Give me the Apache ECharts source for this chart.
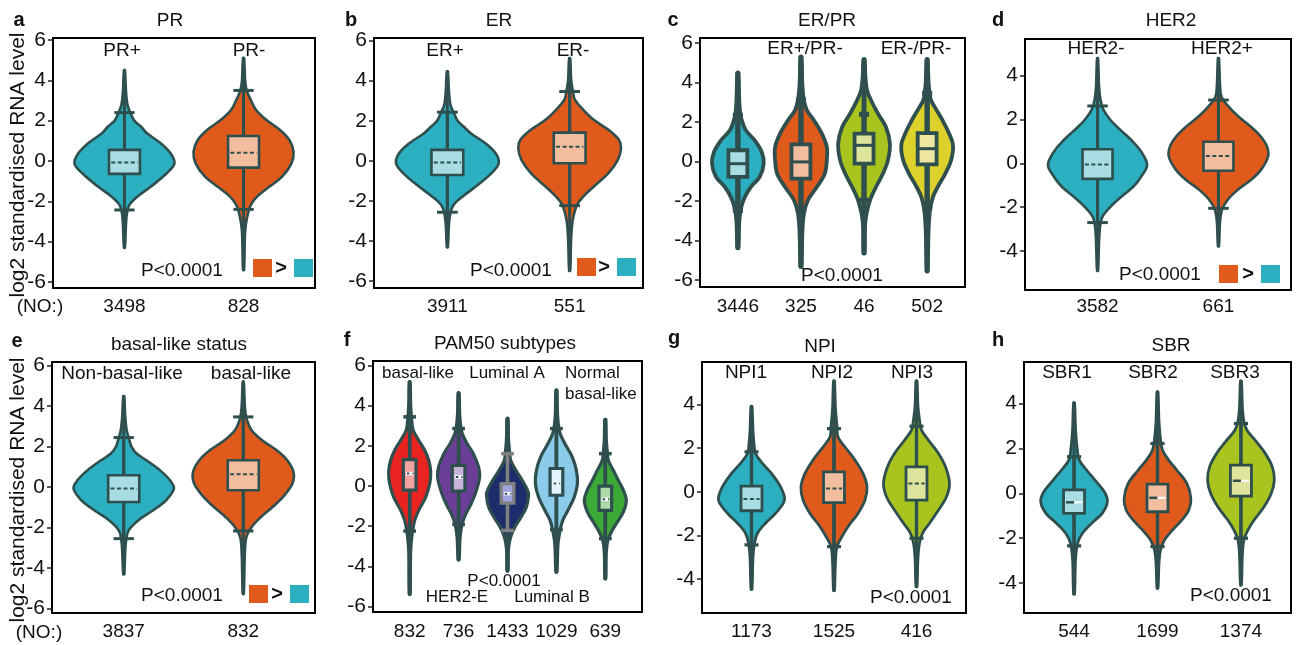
<!DOCTYPE html>
<html><head><meta charset="utf-8">
<script src="https://cdn.jsdelivr.net/npm/echarts@6/dist/echarts.min.js"></script>
<style>html,body{margin:0;padding:0;background:#fff}#c{width:1301px;height:645px}</style>
</head><body><div id="c"></div>
<script>
// ---------- DATA ----------
const panelTitles = ['PR','ER','ER/PR','HER2','basal-like status','PAM50 subtypes','NPI','SBR'];
const panelLetters = ['a','b','c','d','e','f','g','h'];
const groupCounts = [[3498,828],[3911,551],[3446,325,46,502],[3582,661],[3837,832],[832,736,1433,1029,639],[1173,1525,416],[544,1699,1374]];
const yTickValues = [[-6,-4,-2,0,2,4,6],[-6,-4,-2,0,2,4,6],[-6,-4,-2,0,2,4,6],[-4,-2,0,2,4],[-6,-4,-2,0,2,4,6],[-6,-4,-2,0,2,4,6],[-4,-2,0,2,4],[-4,-2,0,2,4]];
const tailMax = [[4.5,5.1],[4.46,5.12],[4.47,5.28,5.15,5.15],[4.78,4.78],[4.48,5.19],[5.18,4.63,3.36,4.77,3.31],[3.91,5.07,5.07],[4.03,4.52,5.0]];
const tailMin = [[-4.3,-5.4],[-4.3,-5.48],[-4.37,-5.32,-4.64,-5.55],[-4.89,-3.77],[-4.3,-5.27],[-5.39,-3.67,-4.23,-4.28,-4.61],[-4.46,-4.52,-4.34],[-4.48,-4.22,-4.08]];
const whiskerHi = [[2.4,3.5],[2.43,3.46],[2.33,3.09,2.38,3.43],[2.61,2.88],[2.44,3.46],[3.44,2.86,1.61,2.86,1.61],[1.83,2.89,3.0],[1.63,2.22,3.11]];
const whiskerLo = [[-2.43,-2.4],[-2.56,-2.23],[-2.48,-2.45,-1.97,-2.31],[-2.7,-2.05],[-2.55,-2.17],[-2.24,-1.91,-2.21,-2.17,-2.62],[-2.43,-2.51,-2.13],[-2.34,-2.37,-2.0]];
const q3 = [[0.55,1.24],[0.55,1.41],[0.56,0.86,1.4,1.43],[0.64,0.98],[0.58,1.32],[1.31,1.03,0.12,0.87,-0.01],[0.26,0.91,1.14],[0.15,0.41,1.26]];
const median = [[-0.08,0.41],[-0.08,0.71],[-0.12,-0.03,0.81,0.64],[-0.05,0.33],[-0.08,0.63],[0.62,0.45,-0.38,0.12,-0.66],[-0.33,0.15,0.38],[-0.4,-0.2,0.56]];
const q1 = [[-0.64,-0.33],[-0.7,-0.12],[-0.79,-0.88,-0.12,-0.15],[-0.71,-0.34],[-0.74,-0.16],[-0.21,-0.25,-0.85,-0.46,-1.21],[-0.87,-0.5,-0.38],[-0.89,-0.82,-0.12]];
// violin density profiles: [value, relative density]
const violinProfiles = [
 [ [[4.5,0.5],[3.5,1.5],[2.8,3],[2.4,6],[2.0,10],[1.7,17],[1.37,23],[0.88,37],[0.38,47],[-0.12,51],[-0.61,43],[-1.27,27],[-1.77,13],[-2.18,5],[-2.6,2.5],[-3.2,1.5],[-4.3,0.5]],
   [[5.1,0.5],[4,1.5],[3.5,3],[3.02,7],[2.53,12],[2.03,22],[1.54,35],[1.04,44],[0.46,48],[-0.12,46],[-0.78,37],[-1.27,25],[-1.77,13],[-2.18,7],[-2.76,3.5],[-3.5,1.5],[-5.4,0.5]] ],
 [ [[4.46,0.5],[3.5,1.5],[2.8,3],[2.43,6],[2.0,10],[1.7,16],[1.37,23],[0.88,37],[0.38,47],[-0.12,50],[-0.61,43],[-1.27,28],[-1.77,15],[-2.2,6],[-2.6,3],[-3.2,1.5],[-4.3,0.5]],
   [[5.12,0.5],[4,1.5],[3.5,3],[3.05,5],[2.55,13],[2.05,23],[1.55,37],[1.05,47],[0.63,49],[0.05,46],[-0.61,37],[-1.28,23],[-1.78,13],[-2.2,7],[-2.95,3],[-3.8,1.5],[-5.48,0.5]] ],
 [ [[4.47,0.5],[3,1.5],[2.4,2.5],[2.08,4],[1.57,8],[1.06,17],[0.47,24],[-0.12,26],[-0.79,22],[-1.3,13],[-1.81,7],[-2.31,3.5],[-3,1.5],[-4.37,0.5]],
   [[5.28,0.5],[3.8,1.5],[3.1,3],[2.58,6],[2.08,13],[1.4,21],[0.72,26],[0.05,26],[-0.62,24],[-1.3,16],[-1.97,7],[-2.65,3],[-3.5,1.5],[-5.32,0.5]],
   [[5.15,0.5],[4.2,1.5],[3.6,3],[3.09,7],[2.41,14],[1.74,22],[0.9,26],[0.05,24],[-0.62,19],[-1.3,12],[-1.97,6],[-2.65,2.5],[-3.3,1],[-4.64,0.5]],
   [[5.15,0.5],[4,1.5],[3.5,2.5],[3.09,4],[2.58,10],[2.08,16],[1.4,23],[0.81,27],[0.05,25],[-0.62,19],[-1.3,11],[-1.81,6],[-2.48,3],[-3.5,1.5],[-5.55,0.5]] ],
 [ [[4.78,0.5],[3.5,1.5],[2.88,3],[2.43,6],[1.97,13],[1.52,23],[1.06,34],[0.53,44],[-0.08,50],[-0.61,44],[-1.07,36],[-1.52,24],[-1.98,13],[-2.43,5],[-2.89,2.5],[-3.6,1.5],[-4.89,0.5]],
   [[4.78,0.5],[3.6,1.5],[3.03,3],[2.58,10],[2.12,20],[1.67,32],[1.21,42],[0.76,48],[0.3,49],[-0.3,42],[-0.76,32],[-1.21,19],[-1.67,9],[-2.12,3.5],[-2.7,1.5],[-3.77,0.5]] ],
 [ [[4.48,0.5],[3.5,1.5],[2.8,3],[2.44,5],[1.98,8],[1.65,13],[1.32,23],[0.82,37],[0.33,47],[-0.08,51],[-0.66,43],[-1.15,30],[-1.64,15],[-2.14,5],[-2.6,2.5],[-3.2,1.5],[-4.3,0.5]],
   [[5.19,0.5],[4,1.5],[3.4,3],[2.8,8],[2.31,18],[1.81,32],[1.32,42],[0.74,48],[0.17,47],[-0.49,38],[-0.99,28],[-1.48,17],[-1.98,8],[-2.47,3],[-3.3,1.5],[-5.27,0.5]] ],
 [ [[5.18,0.5],[4,1],[3.3,2],[2.77,3.5],[2.28,9],[1.78,15],[1.28,19],[0.7,21],[0.12,20],[-0.55,16],[-1.21,9],[-1.71,5],[-2.37,2.5],[-3.2,1],[-5.39,0.5]],
   [[4.63,0.5],[3.6,1],[3.0,2],[2.61,3.5],[2.11,8],[1.61,14],[0.95,19],[0.45,20],[-0.21,17],[-0.88,12],[-1.37,7],[-1.87,3.5],[-2.5,1.5],[-3.67,0.5]],
   [[3.36,0.5],[2.3,1],[1.7,2],[1.28,3],[0.78,8],[0.28,14],[-0.21,19],[-0.46,20],[-1.05,18],[-1.54,13],[-2.04,7],[-2.54,3],[-3.1,1],[-4.23,0.5]],
   [[4.77,0.5],[3.6,1],[3.0,2],[2.61,3.5],[2.11,8],[1.45,15],[0.78,19],[0.12,20],[-0.55,17],[-1.21,11],[-1.71,6],[-2.21,3.5],[-2.9,1.5],[-4.28,0.5]],
   [[3.31,0.5],[2.3,1],[1.7,2],[1.28,3],[0.78,8],[0.28,13],[-0.21,18],[-0.71,21],[-1.29,18],[-1.79,12],[-2.29,6],[-2.7,2.5],[-3.3,1],[-4.61,0.5]] ],
 [ [[3.91,0.5],[2.8,1.5],[2.2,2.5],[1.75,4],[1.3,11],[0.84,20],[0.23,29],[-0.38,33],[-0.99,24],[-1.44,14],[-1.9,6],[-2.36,3],[-3,1.5],[-4.46,0.5]],
   [[5.07,0.5],[3.8,1.5],[3.0,3],[2.51,4],[2.05,11],[1.45,21],[0.84,29],[0.23,33],[-0.38,31],[-0.99,24],[-1.6,14],[-2.05,8],[-2.51,3],[-3.2,1.5],[-4.52,0.5]],
   [[5.07,0.5],[3.9,1.5],[3.3,3],[2.82,5],[2.36,12],[1.75,22],[1.14,29],[0.38,33],[-0.23,30],[-0.84,22],[-1.44,13],[-1.9,6],[-2.36,3],[-3,1.5],[-4.34,0.5]] ],
 [ [[4.03,0.5],[2.8,1.5],[2.0,3],[1.48,5],[1.04,12],[0.59,20],[0.07,29],[-0.37,32],[-0.89,27],[-1.33,17],[-1.78,8],[-2.22,3.5],[-2.9,1.5],[-4.48,0.5]],
   [[4.52,0.5],[3.2,1.5],[2.4,3],[1.92,5],[1.48,11],[1.04,19],[0.44,29],[-0.22,33],[-0.74,31],[-1.19,24],[-1.63,15],[-2.07,7],[-2.52,3],[-3.1,1.5],[-4.22,0.5]],
   [[5.0,0.5],[3.8,1.5],[3.2,3],[2.81,6],[2.37,14],[1.78,24],[1.18,31],[0.59,33],[0,30],[-0.59,23],[-1.19,13],[-1.63,7],[-2.07,3],[-2.7,1.5],[-4.08,0.5]] ]
];

// ---------- STYLE / LAYOUT ----------
const TEAL='#2BAFC1', ORANGE='#E05B1B', LIME='#A9C41F', YEL='#DDD22B';
const TEAL_L='#A9DDE4', ORANGE_L='#F3BEA0', LIME_L='#DEE49C', YEL_L='#EEE6A0';
const fills = [[TEAL,ORANGE],[TEAL,ORANGE],[TEAL,ORANGE,LIME,YEL],[TEAL,ORANGE],[TEAL,ORANGE],
  ['#E92420','#6B3F98','#1D2C6A','#8CCBE9','#3DAA38'],[TEAL,ORANGE,LIME],[TEAL,ORANGE,LIME]];
const lights = [[TEAL_L,ORANGE_L],[TEAL_L,ORANGE_L],[TEAL_L,ORANGE_L,LIME_L,YEL_L],[TEAL_L,ORANGE_L],[TEAL_L,ORANGE_L],
  ['#F3A2A0','#C6B4DB','#A0A3DC','#E3F3FB','#ACDBA8'],[TEAL_L,ORANGE_L,LIME_L],[TEAL_L,ORANGE_L,LIME_L]];
const OUT = '#2F4F4F';
const layout = [
 {left:53,  top:38,  width:262, height:250, xr:[0.4,2.6],  yr:[-6.3,6.1],   lw:2.6, tw:3,   vw:0.42, boxW:0.13,  capW:0.085, med:'dash', lm:9},
 {left:374, top:38,  width:269, height:250, xr:[0.4,2.6],  yr:[-6.34,6.13], lw:2.6, tw:3,   vw:0.42, boxW:0.13,  capW:0.085, med:'dash', lm:9},
 {left:700, top:38,  width:265, height:249, xr:[0.4,4.6],  yr:[-6.36,6.24], lw:3.8, tw:5,   vw:0.41, boxW:0.15,  capW:0.08,  med:'solid', lm:10},
 {left:1025,top:39,  width:266, height:251, xr:[0.4,2.6],  yr:[-5.77,5.66], lw:2.6, tw:3,   vw:0.41, boxW:0.124, capW:0.085, med:'dash', lm:7},
 {left:52,  top:362, width:263, height:251, xr:[0.4,2.6],  yr:[-6.22,6.17], lw:2.6, tw:3,   vw:0.42, boxW:0.13,  capW:0.085, med:'dash', lm:9},
 {left:373, top:361, width:269, height:251, xr:[0.25,5.75],yr:[-6.27,6.22], lw:3.2, tw:3.5, vw:0.43, boxW:0.13,  capW:0.13,  med:'white', lm:10},
 {left:702, top:362, width:264, height:251, xr:[0.4,3.6],  yr:[-5.55,5.94], lw:2.8, tw:3.2, vw:0.40, boxW:0.127, capW:0.085, med:'dash', lm:9},
 {left:1024,top:362, width:267, height:251, xr:[0.4,3.6],  yr:[-5.33,5.85], lw:2.8, tw:3.2, vw:0.40, boxW:0.126, capW:0.085, med:'half', lm:9}
];
const FONT = '"Liberation Sans", Arial, Helvetica, sans-serif';

function makeRender(p) {
  const L = layout[p];
  return function (params, api) {
    const i = params.dataIndex;
    const c = api.value(0);
    const prof = violinProfiles[p][i];
    const maxD = Math.max.apply(null, prof.map(d => d[1]));
    const k = L.vw / maxD;
    const right = prof.map(d => api.coord([c + d[1] * k, d[0]]));
    const left = prof.slice().reverse().map(d => api.coord([c - d[1] * k, d[0]]));
    const boxStroke = (p === 5 && i === 2) ? '#808080' : OUT;
    const ch = [];
    ch.push({type:'polygon', shape:{points:right.concat(left), smooth:0.35},
      style:{fill:fills[p][i], stroke:OUT, lineWidth:L.lw, lineJoin:'round'}});
    const t1 = api.coord([c, tailMax[p][i]]), t2 = api.coord([c, tailMin[p][i]]);
    ch.push({type:'line', shape:{x1:t1[0], y1:t1[1], x2:t2[0], y2:t2[1]}, style:{stroke:OUT, lineWidth:L.tw, lineCap:'round'}});
    const w1 = api.coord([c, whiskerHi[p][i]]), w2 = api.coord([c, whiskerLo[p][i]]);
    ch.push({type:'line', shape:{x1:w1[0], y1:w1[1], x2:w2[0], y2:w2[1]}, style:{stroke:boxStroke, lineWidth:L.tw}});
    [whiskerHi[p][i], whiskerLo[p][i]].forEach(v => {
      const a = api.coord([c - L.capW, v]), b = api.coord([c + L.capW, v]);
      ch.push({type:'line', shape:{x1:a[0], y1:a[1], x2:b[0], y2:b[1]}, style:{stroke:boxStroke, lineWidth:L.tw}});
    });
    const tl = api.coord([c - L.boxW, q3[p][i]]), br = api.coord([c + L.boxW, q1[p][i]]);
    ch.push({type:'rect', shape:{x:tl[0], y:tl[1], width:br[0]-tl[0], height:br[1]-tl[1]},
      style:{fill:lights[p][i], stroke:boxStroke, lineWidth:L.lw}});
    const m1 = api.coord([c - L.boxW, median[p][i]]), m2 = api.coord([c + L.boxW, median[p][i]]);
    const mx = api.coord([c, median[p][i]]);
    const inset = L.lw / 2 + 1;
    if (L.med === 'dash') {
      ch.push({type:'line', shape:{x1:m1[0]+inset, y1:m1[1], x2:m2[0]-inset, y2:m2[1]}, style:{stroke:OUT, lineWidth:2, lineDash:[4,2.5]}});
    } else if (L.med === 'solid') {
      ch.push({type:'line', shape:{x1:m1[0], y1:m1[1], x2:m2[0], y2:m2[1]}, style:{stroke:OUT, lineWidth:3}});
    } else if (L.med === 'white') {
      ch.push({type:'line', shape:{x1:m1[0]+inset, y1:m1[1], x2:m2[0]-inset, y2:m2[1]}, style:{stroke:'#fff', lineWidth:3.5}});
      ch.push({type:'line', shape:{x1:m1[0]+inset+1, y1:m1[1], x2:m2[0]-inset, y2:m2[1]}, style:{stroke:OUT, lineWidth:2, lineDash:[2.5,3]}});
    } else {
      ch.push({type:'line', shape:{x1:m1[0]+inset, y1:m1[1], x2:mx[0], y2:mx[1]}, style:{stroke:OUT, lineWidth:2.5}});
      ch.push({type:'line', shape:{x1:mx[0], y1:mx[1], x2:m2[0]-inset, y2:m2[1]}, style:{stroke:'#fff', lineWidth:2}});
    }
    return {type:'group', children:ch};
  };
}

const grids = [], xAxes = [], yAxes = [], series = [];
layout.forEach((L, p) => {
  grids.push({left:L.left, top:L.top, width:L.width, height:L.height, show:true, borderColor:'#000', borderWidth:2, containLabel:false});
  const cats = groupCounts[p].map((n, i) => i + 1);
  xAxes.push({type:'value', gridIndex:p, min:L.xr[0], max:L.xr[1],
    axisLine:{show:false}, splitLine:{show:false},
    axisTick:{show:true, customValues:cats, length:5, lineStyle:{color:'#222', width:1.5}},
    axisLabel:{show:true, customValues:cats, margin:L.lm, color:'#111', fontSize:19, fontFamily:FONT,
      formatter: v => String(groupCounts[p][Math.round(v) - 1])}});
  yAxes.push({type:'value', gridIndex:p, min:L.yr[0], max:L.yr[1],
    axisLine:{show:false}, splitLine:{show:false},
    axisTick:{show:true, customValues:yTickValues[p], length:5, lineStyle:{color:'#222', width:1.5}},
    axisLabel:{show:true, customValues:yTickValues[p], margin:7, color:'#111', fontSize:21, fontFamily:FONT}});
  series.push({type:'custom', xAxisIndex:p, yAxisIndex:p, clip:false, silent:true,
    renderItem:makeRender(p), encode:{x:0, y:1},
    data: cats.map((c, i) => [c, median[p][i]])});
});

// ---------- TEXT ANNOTATIONS ----------
const T = (text, x, y, size, opt) => Object.assign({type:'text', x:x, y:y, silent:true,
  style:{text:text, fill:'#111', font:(opt && opt.bold ? 'bold ' : '') + size + 'px ' + FONT,
    align:(opt && opt.align) || 'center', verticalAlign:'middle'}}, opt && opt.rot ? {rotation:Math.PI/2} : {});
const letterPos = [[19,20],[351,20],[673,20],[998,20],[17,341],[347,340],[674,338],[998,340]];
const titlePos = [[170,21],[499,21],[827,21],[1171,21],[179,345],[505,344],[820,347],[1171,346]];
const graphics = [];
panelLetters.forEach((t, i) => graphics.push(T(t, letterPos[i][0], letterPos[i][1], 20, {bold:true})));
panelTitles.forEach((t, i) => graphics.push(T(t, titlePos[i][0], titlePos[i][1], 19)));
[
 ['PR+',122,51],['PR-',249,51],['ER+',445,51],['ER-',573,51],['ER+/PR-',805,49],['ER-/PR-',916,49],
 ['HER2-',1096,49],['HER2+',1222,49],['Non-basal-like',122,374],['basal-like',251,374],
 ['NPI1',746,373],['NPI2',832,373],['NPI3',912,373],['SBR1',1067,373],['SBR2',1153,373],['SBR3',1235,373],
 ['P<0.0001',182,270.5],['P<0.0001',511,270.5],['P<0.0001',842,275.5],['P<0.0001',1160,275],
 ['P<0.0001',182,595.5],['P<0.0001',911,598],['P<0.0001',1231,595.5],
 ['(NO:)',40,306.7],['(NO:)',39,632.5]
].forEach(d => graphics.push(T(d[0], d[1], d[2], 19)));
[
 ['basal-like',418,373],['Luminal A',507,373],['HER2-E',457,597],['Luminal B',552,597],['P<0.0001',504,581.5]
].forEach(d => graphics.push(T(d[0], d[1], d[2], 17)));
graphics.push(T('Normal', 565, 373, 17, {align:'left'}));
graphics.push(T('basal-like', 565, 394, 17, {align:'left'}));
graphics.push(T('log2 standardised RNA level', 18, 165, 21, {rot:true}));
graphics.push(T('log2 standardised RNA level', 18, 490, 21, {rot:true}));
// legend swatches: orange > teal
[[253,259,281,294,268],[577,258,604,617,267],[1219,265,1248,1261,274],[249,585,277,290,594]].forEach(s => {
  graphics.push({type:'rect', silent:true, shape:{x:s[0], y:s[1], width:19, height:18}, style:{fill:ORANGE}});
  graphics.push(T('>', s[2], s[4], 20, {bold:true}));
  graphics.push({type:'rect', silent:true, shape:{x:s[3], y:s[1], width:19, height:18}, style:{fill:TEAL}});
});

const chart = echarts.init(document.getElementById('c'), null, {renderer:'canvas'});
chart.setOption({
  animation:false, backgroundColor:'#fff',
  textStyle:{fontFamily:FONT},
  grid:grids, xAxis:xAxes, yAxis:yAxes, series:series, graphic:{elements:graphics}
});
</script></body></html>
